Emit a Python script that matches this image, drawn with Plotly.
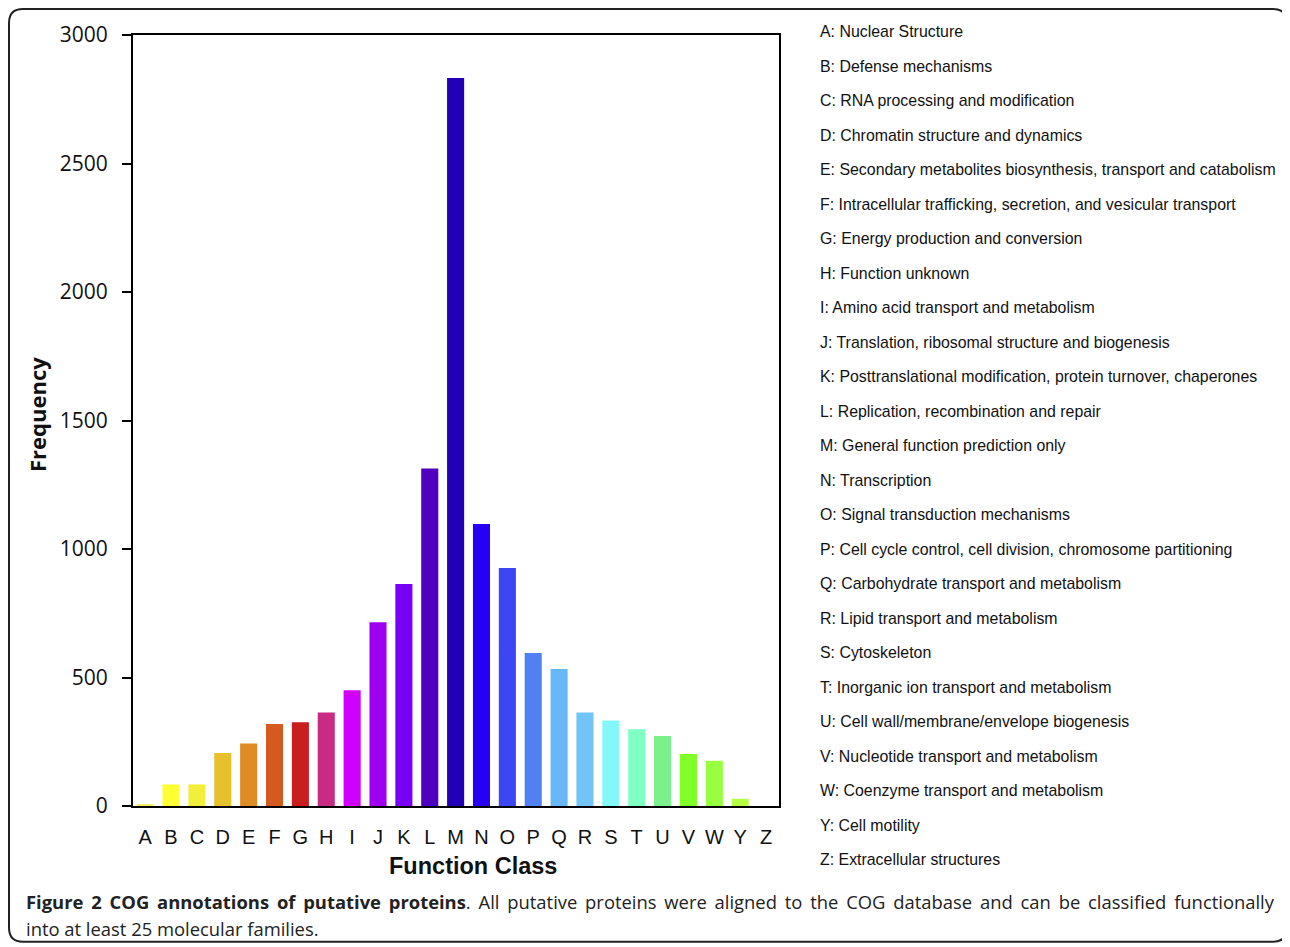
import plotly.graph_objects as go

# ---- data ----
categories = list("ABCDEFGHIJKLMNOPQRSTUVWYZ")
frequency = [5, 84, 84, 206, 243, 319, 326, 364, 450, 715, 864, 1313, 2833, 1097, 926,
             595, 533, 364, 333, 299, 272, 202, 176, 28, 0]
bar_colors = ["#f0f060", "#ffff33", "#f2ee3c", "#e8c02c", "#e08c24", "#d45a20", "#c81e1e",
              "#c82a84", "#d000ff", "#a000f0", "#7800f4", "#5000c0", "#2200b8", "#2600f4",
              "#3c46f4", "#5080f4", "#68b8f8", "#70c4f8", "#84f8f8", "#80ffc4", "#7cf08c",
              "#80ff28", "#98ff40", "#b4ff44", "#ffffff"]
descriptions = [
    "Nuclear Structure",
    "Defense mechanisms",
    "RNA processing and modification",
    "Chromatin structure and dynamics",
    "Secondary metabolites biosynthesis, transport and catabolism",
    "Intracellular trafficking, secretion, and vesicular transport",
    "Energy production and conversion",
    "Function unknown",
    "Amino acid transport and metabolism",
    "Translation, ribosomal structure and biogenesis",
    "Posttranslational modification, protein turnover, chaperones",
    "Replication, recombination and repair",
    "General function prediction only",
    "Transcription",
    "Signal transduction mechanisms",
    "Cell cycle control, cell division, chromosome partitioning",
    "Carbohydrate transport and metabolism",
    "Lipid transport and metabolism",
    "Cytoskeleton",
    "Inorganic ion transport and metabolism",
    "Cell wall/membrane/envelope biogenesis",
    "Nucleotide transport and metabolism",
    "Coenzyme transport and metabolism",
    "Cell motility",
    "Extracellular structures",
]
y_ticks = [0, 500, 1000, 1500, 2000, 2500, 3000]
x_title = "Function Class"
y_title = "Frequency"
caption_bold = "Figure 2 COG annotations of putative proteins"
caption_rest = ". All putative proteins were aligned to the COG database and can be classified functionally"
caption_line2 = "into at least 25 molecular families."

# ---- layout geometry (pixels, in page coordinates; page body has an 8px margin) ----
OFF = 8
W, H = 1290 - OFF, 947 - OFF
L, R, T, B = 133 - OFF, 779 - OFF, 33 - OFF, 806 - OFF


def px(X):
    return (X - OFF - L) / (R - L)


def py(Y):
    return (B - (Y - OFF)) / (B - T)


fig = go.Figure(go.Bar(
    x=categories, y=frequency,
    marker=dict(color=bar_colors, line=dict(width=0)),
    width=0.66,
))

ann = []
ann.append(dict(text="<b>" + y_title + "</b>", x=px(37), y=py(414), xref="paper", yref="paper",
                textangle=-90, showarrow=False,
                font=dict(family="Open Sans", size=22, color="#111"),
                xanchor="center", yanchor="middle"))
ann.append(dict(text="<b>" + x_title + "</b>", x=px(473), y=py(866), xref="paper", yref="paper",
                showarrow=False, font=dict(family="Liberation Sans", size=23.5, color="#111"),
                xanchor="center", yanchor="middle"))

for i, (c, d) in enumerate(zip(categories, descriptions)):
    ann.append(dict(text=f"{c}: {d}", x=px(818), y=py(29.5 + i * 34.6),
                    xref="paper", yref="paper", showarrow=False,
                    xanchor="left", yanchor="middle",
                    font=dict(family="Liberation Sans", size=15.9, color="#111")))

SP = " \u2009"  # widened word spacing to imitate the justified first caption line
line1 = "<b>" + caption_bold.replace(" ", SP) + "</b>" + caption_rest.replace(" ", SP)
ann.append(dict(text=line1, x=px(24), y=py(902),
                xref="paper", yref="paper", showarrow=False, xanchor="left", yanchor="middle",
                font=dict(family="Open Sans", size=18.4, color="#222")))
ann.append(dict(text=caption_line2, x=px(24), y=py(929),
                xref="paper", yref="paper", showarrow=False, xanchor="left", yanchor="middle",
                font=dict(family="Open Sans", size=18.4, color="#222")))

# rounded frame
x0, x1, y0, y1, r = px(9), px(1287), py(7), py(942), 14
rx, ry = r / (R - L), r / (B - T)
path = (f"M {x0+rx},{y0} L {x1-rx},{y0} Q {x1},{y0} {x1},{y0-ry} "
        f"L {x1},{y1+ry} Q {x1},{y1} {x1-rx},{y1} "
        f"L {x0+rx},{y1} Q {x0},{y1} {x0},{y1+ry} "
        f"L {x0},{y0-ry} Q {x0},{y0} {x0+rx},{y0} Z")

fig.update_layout(
    width=W, height=H, autosize=False,
    margin=dict(l=L, r=W - R, t=T, b=H - B, pad=0),
    paper_bgcolor="white", plot_bgcolor="white",
    showlegend=False,
    annotations=ann,
    shapes=[dict(type="path", path=path, xref="paper", yref="paper",
                 line=dict(color="#222", width=2), fillcolor="rgba(0,0,0,0)", layer="below")],
)
fig.update_xaxes(
    range=[-0.47, 24.5], showline=True, mirror=True, linecolor="black", linewidth=2,
    ticks="", showgrid=False, zeroline=False,
    tickfont=dict(family="Liberation Sans", size=20, color="#111"),
    ticklabelstandoff=12,
)
fig.update_yaxes(
    range=[0, 3000], tickvals=y_ticks, showline=True, mirror=True, linecolor="black", linewidth=2,
    ticks="outside", ticklen=9, tickwidth=2, tickcolor="black",
    showgrid=False, zeroline=False,
    tickfont=dict(family="Open Sans", size=21, color="#111"),
    ticklabelstandoff=10,
)

fig.write_html("out.html")
